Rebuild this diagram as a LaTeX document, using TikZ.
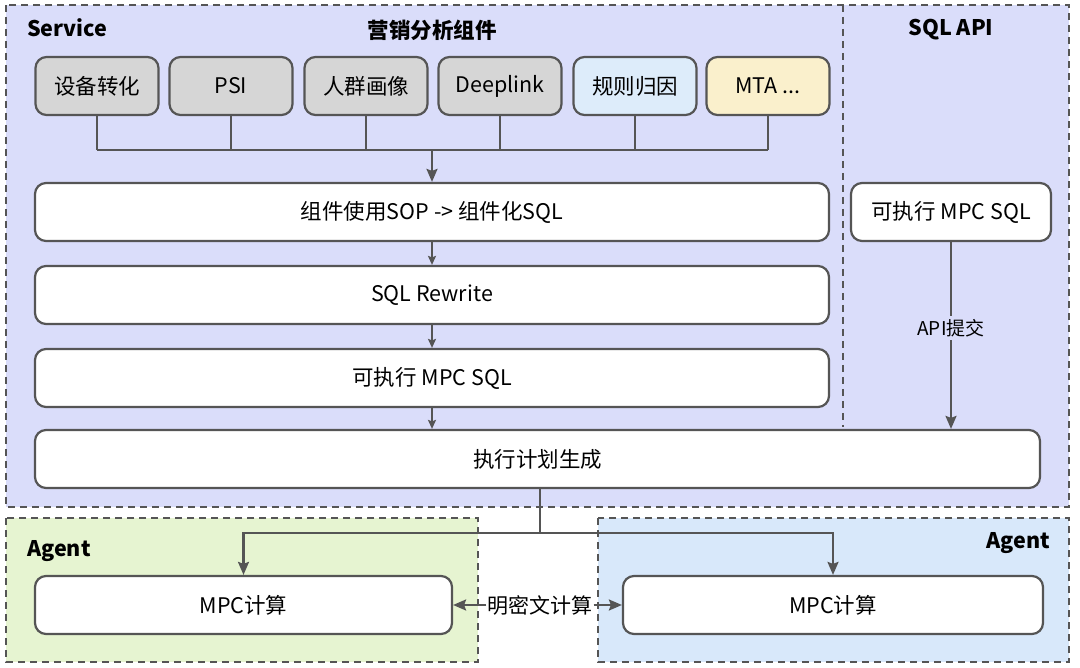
\documentclass[tikz,border=0pt]{standalone}
\usepackage{fontspec}
\setmainfont{Noto Sans CJK SC}
\usepackage{tikz}
\usetikzlibrary{arrows.meta,positioning,calc}
\usepackage{xcolor}
\definecolor{edgegray}{RGB}{85,85,85}
\definecolor{servicebg}{RGB}{218,221,250}
\definecolor{agentgreen}{RGB}{230,244,209}
\definecolor{agentblue}{RGB}{216,232,250}
\definecolor{compgray}{RGB}{214,214,214}
\definecolor{compblue}{RGB}{221,236,250}
\definecolor{compyellow}{RGB}{250,240,204}

\begin{document}
\begin{tikzpicture}[x=1pt, y=-1pt,
    frame/.style={draw=edgegray, line width=2.6pt, dash pattern=on 7pt off 5pt},
    comp/.style={draw=edgegray, line width=2.2pt, rounded corners=11pt, inner sep=0pt,
                 minimum width=123pt, minimum height=58pt, font=\fontsize{21.5}{23}\selectfont},
    stage/.style={draw=edgegray, fill=white, line width=2.2pt, rounded corners=11pt, inner sep=0pt,
                  minimum height=58pt, font=\fontsize{21.5}{23}\selectfont},
    title/.style={font=\bfseries\fontsize{21.5}{23}\selectfont, inner sep=0pt},
    link/.style={draw=edgegray, line width=2.2pt},
    arr/.style={link, -{Stealth[length=13pt, width=11pt, inset=2pt]}},
    arrsmall/.style={link, -{Stealth[length=9pt, width=8pt, inset=1.5pt]}}
]
\useasboundingbox (0,0) rectangle (1080,668);

% frames
\draw[frame, fill=servicebg] (6,5) rectangle (1069,507);
\draw[frame] (843,5) -- (843,427);
\draw[frame, fill=agentgreen] (6,518) rectangle (478,662);
\draw[frame, fill=agentblue] (598,518) rectangle (1069,662);

\node[title, anchor=west] (servicet) at (27,28) {Service};
\node[title] (compt) at (432,30) {营销分析组件};
\node[title] (apit) at (951,30) {SQL API};
\node[title, anchor=west] (agentl) at (27,551) {Agent};
\node[title, anchor=east] (agentr) at (1050,543) {Agent};

% components
\node[comp, fill=compgray] (dev) at (97,86) {设备转化};
\node[comp, fill=compgray] (psi) at (231,86) {PSI};
\node[comp, fill=compgray] (crowd) at (366,86) {人群画像};
\node[comp, fill=compgray] (deep) at (500,86) {Deeplink};
\node[comp, fill=compblue] (rule) at (635,86) {规则归因};
\node[comp, fill=compyellow] (mta) at (768,86) {MTA ...};

% stages
\node[stage, minimum width=794pt] (sop) at (432,212) {组件使用SOP -> 组件化SQL};
\node[stage, minimum width=794pt] (rewrite) at (432,295) {SQL Rewrite};
\node[stage, minimum width=794pt] (mpcsql) at (432,378) {可执行 MPC SQL};
\node[stage, minimum width=200pt] (apisql) at (951,212) {可执行 MPC SQL};
\node[stage, minimum width=1005pt] (plan) at (537.5,459) {执行计划生成};
\node[stage, minimum width=417pt] (mpcl) at (243.5,605) {MPC计算};
\node[stage, minimum width=420pt] (mpcr) at (833,605) {MPC计算};

% bus from the components
\coordinate (bus) at (432,150);
\foreach \c in {dev,psi,crowd,deep,rule,mta}
    \draw[link] (\c.south) -- (\c.south |- bus);
\draw[link] (dev.south |- bus) -- (mta.south |- bus);
\draw[arr] (bus) -- (sop.north);

\draw[arrsmall] (sop) -- (rewrite);
\draw[arrsmall] (rewrite) -- (mpcsql);
\draw[arrsmall] (mpcsql) -- (mpcsql |- plan.north);

% api submit
\node[fill=servicebg, font=\fontsize{19}{21}\selectfont, inner sep=3pt] (submit) at (951,328) {API提交};
\draw[link] (apisql) -- (submit);
\draw[arr] (submit) -- (submit |- plan.north);

% fan out to agents
\coordinate (split) at (540,533);
\draw[link] (plan.south -| split) -- (split);
\draw[arr] (split) -| (mpcl.north);
\draw[arr] (split) -| (mpcr.north);

\node[fill=white, font=\fontsize{21}{23}\selectfont, inner sep=1pt] (mixed) at (540,605) {明密文计算};
\draw[arr] (mixed) -- (mpcl);
\draw[arr] (mixed) -- (mpcr);
\end{tikzpicture}
\end{document}
